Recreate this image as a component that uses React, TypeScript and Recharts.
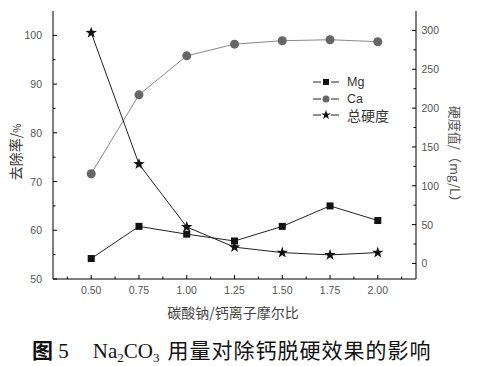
import React from "react";
import { ComposedChart, Line, XAxis, YAxis, Legend } from "recharts";

// molar ratio Na2CO3 / Ca2+
const ratio = [0.5, 0.75, 1.0, 1.25, 1.5, 1.75, 2.0];
// removal rate, %
const mgRemoval = [54.2, 60.8, 59.2, 57.8, 60.8, 65.0, 62.0];
const caRemoval = [71.6, 87.8, 95.8, 98.2, 98.9, 99.1, 98.7];
// total hardness, mg/L
const totalHardness = [297, 128, 47, 21, 14, 11, 14];

const xMajor = [0.5, 0.75, 1.0, 1.25, 1.5, 1.75, 2.0];
const xMinor = [0.375, 0.625, 0.875, 1.125, 1.375, 1.625, 1.875, 2.125];
const leftMajor = [50, 60, 70, 80, 90, 100];
const leftMinor = [55, 65, 75, 85, 95];
const rightMajor = [0, 50, 100, 150, 200, 250, 300];
const rightMinor = [25, 75, 125, 175, 225, 275];

const legendOrder = ["mg", "ca", "total"];

const data = ratio.map((r, i) => ({
  ratio: r,
  mg: mgRemoval[i],
  ca: caRemoval[i],
  total: totalHardness[i],
}));

const TICK_COLOR = "#555";
const FONT = "'Liberation Sans', Arial, sans-serif";
const CJK = "'Noto Sans CJK SC', sans-serif";

const XTick = (p: any) => {
  const v = p.payload.value;
  const major = xMajor.includes(v);
  return (
    <g>
      <line x1={p.x} y1={p.y} x2={p.x} y2={p.y - (major ? 4 : 2.5)} stroke="#000" />
      {major && (
        <text x={p.x} y={p.y + 15} textAnchor="middle" fontSize={10.5} fill={TICK_COLOR} fontFamily={FONT}>
          {v.toFixed(2)}
        </text>
      )}
    </g>
  );
};

const LeftTick = (p: any) => {
  const v = p.payload.value;
  const major = leftMajor.includes(v);
  return (
    <g>
      <line x1={p.x} y1={p.y} x2={p.x + (major ? 4 : 2.5)} y2={p.y} stroke="#000" />
      {major && (
        <text x={p.x - 11} y={p.y + 4} textAnchor="end" fontSize={10.5} fill={TICK_COLOR} fontFamily={FONT}>
          {v}
        </text>
      )}
    </g>
  );
};

const RightTick = (p: any) => {
  const v = p.payload.value;
  const major = rightMajor.includes(v);
  return (
    <g>
      <line x1={p.x} y1={p.y} x2={p.x - (major ? 4 : 2.5)} y2={p.y} stroke="#000" />
      {major && (
        <text x={p.x + 5.5} y={p.y + 4} textAnchor="start" fontSize={10.5} fill={TICK_COLOR} fontFamily={FONT}>
          {v}
        </text>
      )}
    </g>
  );
};

const starPath = (cx: number, cy: number, ro: number, ri: number) => {
  let d = "";
  for (let i = 0; i < 10; i++) {
    const r = i % 2 === 0 ? ro : ri;
    const a = -Math.PI / 2 + (i * Math.PI) / 5;
    d += (i === 0 ? "M" : "L") + (cx + r * Math.cos(a)).toFixed(2) + "," + (cy + r * Math.sin(a)).toFixed(2);
  }
  return d + "Z";
};

const Square = (p: any) => <rect key={p.key} x={p.cx - 3.5} y={p.cy - 3.5} width={7} height={7} fill="#111" />;
const Circle = (p: any) => <circle key={p.key} cx={p.cx} cy={p.cy} r={4.5} fill="#666" />;
const Star = (p: any) => <path key={p.key} d={starPath(p.cx, p.cy, 6, 2.4)} fill="#111" />;

const icons: Record<string, (cx: number, cy: number) => React.ReactNode> = {
  mg: (cx, cy) => <rect x={cx - 3} y={cy - 3} width={6} height={6} fill="#111" />,
  ca: (cx, cy) => <circle cx={cx} cy={cy} r={3.5} fill="#666" />,
  total: (cx, cy) => <path d={starPath(cx, cy, 5, 2)} fill="#111" />,
};

const LegendBox = (props: any) => {
  const items = [...(props.payload || [])].sort(
    (a: any, b: any) => legendOrder.indexOf(a.dataKey) - legendOrder.indexOf(b.dataKey)
  );
  return (
    <div style={{ fontFamily: FONT, fontSize: 12.5, color: "#333" }}>
      {items.map((item: any) => (
        <div key={item.dataKey} style={{ display: "flex", alignItems: "center", height: 16.5 }}>
          <svg width={26} height={12} style={{ marginRight: 8 }}>
            <line x1={0} y1={6} x2={8} y2={6} stroke="#222" />
            <line x1={18} y1={6} x2={26} y2={6} stroke="#222" />
            {icons[item.dataKey](13, 6)}
          </svg>
          <span style={{ fontFamily: item.dataKey === "total" ? CJK : FONT, fontSize: item.dataKey === "total" ? 14 : 12.5 }}>
            {item.value}
          </span>
        </div>
      ))}
    </div>
  );
};

export default function App() {
  return (
    <div style={{ position: "absolute", left: 0, top: 0, width: 486, height: 366, background: "#fff" }}>
      <ComposedChart width={486} height={309} data={data} margin={{ top: 11, right: 0, left: 0, bottom: 0 }}>
        <XAxis
          xAxisId="top"
          orientation="top"
          type="number"
          domain={[0.3, 2.2]}
          height={0}
          tick={false}
          tickLine={false}
          axisLine={{ stroke: "#000" }}
        />
        <XAxis
          dataKey="ratio"
          type="number"
          domain={[0.3, 2.2]}
          ticks={[...xMajor, ...xMinor].sort((a, b) => a - b)}
          interval={0}
          height={30}
          tickSize={0}
          tickMargin={0}
          tickLine={false}
          tick={XTick}
          axisLine={{ stroke: "#000" }}
        />
        <YAxis
          yAxisId="left"
          type="number"
          domain={[50, 105]}
          ticks={[...leftMajor, ...leftMinor].sort((a, b) => a - b)}
          interval={0}
          width={53}
          tickSize={0}
          tickMargin={0}
          tickLine={false}
          tick={LeftTick}
          axisLine={{ stroke: "#000" }}
        />
        <YAxis
          yAxisId="right"
          orientation="right"
          type="number"
          domain={[-20, 325]}
          ticks={[...rightMajor, ...rightMinor].sort((a, b) => a - b)}
          interval={0}
          width={70}
          tickSize={0}
          tickMargin={0}
          tickLine={false}
          tick={RightTick}
          axisLine={{ stroke: "#000" }}
        />
        <Legend
          layout="vertical"
          align="center"
          verticalAlign="middle"
          content={LegendBox}
          wrapperStyle={{ left: 313, top: 74, width: "auto" }}
        />
        <Line yAxisId="left" dataKey="mg" name="Mg" stroke="#222" strokeWidth={1} dot={Square} isAnimationActive={false} />
        <Line yAxisId="left" dataKey="ca" name="Ca" stroke="#888" strokeWidth={1} dot={Circle} isAnimationActive={false} />
        <Line yAxisId="right" dataKey="total" name="总硬度" stroke="#222" strokeWidth={1} dot={Star} isAnimationActive={false} />
      </ComposedChart>

      <div
        style={{
          position: "absolute", left: 15, top: 152, transform: "translate(-50%, -50%) rotate(-90deg)",
          whiteSpace: "nowrap", fontFamily: CJK, fontSize: 14, color: "#333",
        }}
      >
        去除率/<span style={{ fontSize: 10 }}>%</span>
      </div>
      <div
        style={{
          position: "absolute", left: 455, top: 157, transform: "translate(-50%, -50%) rotate(90deg)",
          whiteSpace: "nowrap", fontFamily: CJK, fontSize: 13, color: "#555",
        }}
      >
        硬度值/（mg/L）
      </div>
      <div
        style={{
          position: "absolute", left: 233, top: 312, transform: "translate(-50%, -50%)",
          whiteSpace: "nowrap", fontFamily: CJK, fontSize: 14, color: "#444",
        }}
      >
        碳酸钠/钙离子摩尔比
      </div>
      <div
        style={{
          position: "absolute", left: 32, top: 337, height: 26, lineHeight: "24px", whiteSpace: "nowrap",
          fontFamily: "'Liberation Serif', serif", fontSize: 21, color: "#111",
        }}
      >
        <span style={{ fontFamily: CJK, fontWeight: 700 }}>图</span> 5
        <span style={{ marginLeft: 24 }}>
          Na<span style={{ fontSize: 13, position: "relative", top: 4 }}>2</span>CO
          <span style={{ fontSize: 13, position: "relative", top: 4 }}>3</span>
        </span>
        <span style={{ fontFamily: CJK, marginLeft: 8, letterSpacing: 1 }}>用量对除钙脱硬效果的影响</span>
      </div>
    </div>
  );
}
